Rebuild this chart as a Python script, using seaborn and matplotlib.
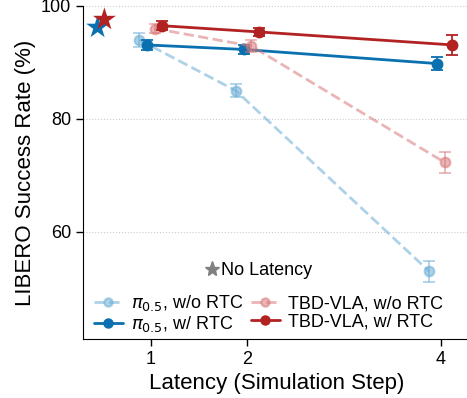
import numpy as np
import pandas as pd
import matplotlib
matplotlib.use("Agg")
import matplotlib.pyplot as plt
import seaborn as sns
from matplotlib.lines import Line2D

latency = [1, 2, 4]
pi_wo = [94.0, 85.0, 53.0]
pi_wo_err = [1.2, 1.2, 1.9]
pi_w = [93.1, 92.3, 89.8]
pi_w_err = [0.9, 0.8, 1.1]
tbd_wo = [96.0, 92.9, 72.3]
tbd_wo_err = [0.8, 1.1, 1.9]
tbd_w = [96.5, 95.4, 93.1]
tbd_w_err = [0.8, 0.7, 1.8]
no_lat_x = [0.45, 0.52]
no_lat_y = [96.2, 97.6]

series = [
    (r"$\pi_{0.5}$, w/o RTC", pi_wo, pi_wo_err, -0.12, "#6baed6", "--", 0.55),
    (r"$\pi_{0.5}$, w/ RTC", pi_w, pi_w_err, -0.04, "#0a70b0", "-", 1.0),
    ("TBD-VLA, w/o RTC", tbd_wo, tbd_wo_err, 0.04, "#d9787a", "--", 0.55),
    ("TBD-VLA, w/ RTC", tbd_w, tbd_w_err, 0.12, "#b22222", "-", 1.0),
]

sns.set_style("ticks", {"axes.edgecolor": "black", "xtick.color": "black",
                        "ytick.color": "black", "text.color": "black",
                        "axes.labelcolor": "black"})
plt.rcParams["font.family"] = ["Liberation Sans", "DejaVu Sans"]

fig = plt.figure(figsize=(4.67, 3.98), dpi=100)
ax = fig.add_axes([0.178, 0.148, 0.83, 0.837])

handles = []
for name, vals, errs, off, color, ls, alpha in series:
    df = pd.DataFrame({"x": np.array(latency) + off, "y": vals})
    sns.lineplot(data=df, x="x", y="y", ax=ax, color=color, linestyle=ls,
                 marker="o", markersize=7, linewidth=2, alpha=alpha,
                 markeredgecolor=color, markeredgewidth=1.5, label=name,
                 legend=False)
    ax.errorbar(df["x"], df["y"], yerr=errs, fmt="none", ecolor=color,
                elinewidth=1.3, capsize=4, capthick=1.3, alpha=alpha)
    handles.append(Line2D([], [], color=color, linestyle=ls, marker="o",
                          markersize=6, linewidth=2, alpha=alpha,
                          markeredgecolor=color, markeredgewidth=1.5,
                          label=name))

ax.scatter(no_lat_x, no_lat_y, marker="*", s=300, color=["#0a70b0", "#b22222"],
           zorder=5, linewidths=0)

ax.set_xlim(0.3, 4.31)
ax.set_ylim(41, 100)
ax.set_xticks(latency)
ax.set_yticks([60, 80, 100])
ax.tick_params(labelsize=13, length=5, width=1)
ax.yaxis.grid(True, linestyle=":", color="#cccccc", linewidth=0.8)
ax.set_axisbelow(True)
ax.set_xlabel("Latency (Simulation Step)", fontsize=16)
ax.set_ylabel("LIBERO Success Rate (%)", fontsize=16)
sns.despine(ax=ax)

star_h = Line2D([], [], linestyle="none", marker="*", markersize=11,
                color="gray", label="No Latency")
leg1 = ax.legend(handles=[star_h], loc="center", bbox_to_anchor=(0.455, 0.205),
                 frameon=False, fontsize=13, handlelength=0.6,
                 handletextpad=0.2)
ax.add_artist(leg1)
ax.legend(handles=handles, ncol=2, loc="upper left",
          bbox_to_anchor=(0.0, 0.17), frameon=False, fontsize=13,
          handlelength=1.6, handletextpad=0.45, columnspacing=0.4,
          labelspacing=0.05, borderaxespad=0.2)

fig.savefig("out.png", dpi=100)
